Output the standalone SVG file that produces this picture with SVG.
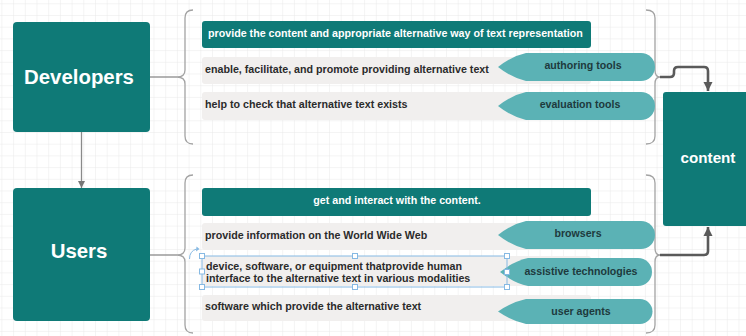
<svg xmlns="http://www.w3.org/2000/svg" width="746" height="336" viewBox="0 0 746 336">
  <defs>
    <pattern id="grid" x="1.4" y="3.3" width="11.7" height="11.7" patternUnits="userSpaceOnUse">
      <path d="M11.7,0 L0,0 L0,11.7" fill="none" stroke="#e9e9e9" stroke-width="1"/>
    </pattern>
    <marker id="arrowDark" viewBox="0 0 10 10" refX="10" refY="5" markerUnits="userSpaceOnUse" markerWidth="9" markerHeight="10" orient="auto">
      <path d="M0,0 L10,5 L0,10 Z" fill="#5a5a5a"/>
    </marker>
    <marker id="arrowThin" viewBox="0 0 10 10" refX="10" refY="5" markerUnits="userSpaceOnUse" markerWidth="8" markerHeight="7" orient="auto">
      <path d="M0,0 L10,5 L0,10 Z" fill="#777"/>
    </marker>
    <style>
      .big { fill: #0f7a77; }
      .bar { fill: #0f7a77; }
      .item { fill: #f1efee; }
      .callout { fill: #5bb2b5; }
      .brace { fill: none; stroke: #a3a3a3; stroke-width: 1.3; }
      .link { fill: none; stroke: #8a8a8a; stroke-width: 1.3; }
      .flow { fill: none; stroke: #5a5a5a; stroke-width: 2.6; stroke-linejoin: round; }
      .bigtxt { font-family: "Liberation Sans", Arial, sans-serif; font-weight: bold; fill: #ffffff; text-anchor: middle; }
      .t { font-family: "Liberation Sans", Arial, sans-serif; font-weight: bold; font-size: 10.7px; fill: #2b2b2b; }
      .tw { font-family: "Liberation Sans", Arial, sans-serif; font-weight: bold; font-size: 10.7px; fill: #ffffff; }
      .tc { font-family: "Liberation Sans", Arial, sans-serif; font-weight: bold; font-size: 10.6px; fill: #1e3a3d; text-anchor: middle; }
      .sel { fill: none; stroke: #86b9e3; stroke-width: 1; }
      .handle { fill: #ffffff; stroke: #86b9e3; stroke-width: 1; }
    </style>
  </defs>

  <rect x="0" y="0" width="746" height="336" fill="#ffffff"/>
  <rect x="0" y="0" width="746" height="336" fill="url(#grid)"/>

  <g id="connectors">
    <path class="brace" d="M193,10 Q185,10 185,18 L185,70 Q185,77 177,77 Q185,77 185,84 L185,136 Q185,144 193,144"/>
    <path class="brace" d="M646,10 Q655,10 655,18 L655,70 Q655,77 660,77 Q655,77 655,84 L655,136 Q655,144 646,144"/>
    <path class="brace" d="M193,175 Q185,175 185,183 L185,248 Q185,255 177,255 Q185,255 185,262 L185,325 Q185,333 193,333"/>
    <path class="brace" d="M646,175 Q655,175 655,183 L655,248 Q655,255 660,255 Q655,255 655,262 L655,325 Q655,333 646,333"/>
    <path class="link" d="M150,77 L177,77"/>
    <path class="link" d="M150,255 L177,255"/>
    <path class="link" d="M81.5,132 L81.5,188" marker-end="url(#arrowThin)"/>
    <path class="flow" d="M660,77 L670,77 Q674,77 674,73 L674,71 Q674,67 678,67 L704,67 Q708,67 708,71 L708,91" marker-end="url(#arrowDark)"/>
    <path class="flow" d="M660,255 L704,255 Q708,255 708,251 L708,227" marker-end="url(#arrowDark)"/>
  </g>

  <g id="developers">
    <rect class="big" x="13" y="22" width="137" height="110" rx="4"/>
    <text class="bigtxt" x="79" y="84" font-size="20.4">Developers</text>
  </g>

  <g id="users">
    <rect class="big" x="13" y="188" width="137" height="133" rx="4"/>
    <text class="bigtxt" x="79" y="258" font-size="20.4">Users</text>
  </g>

  <g id="content">
    <rect class="big" x="663" y="92" width="92" height="134" rx="3"/>
    <text class="bigtxt" x="708" y="163" font-size="15.2">content</text>
  </g>

  <g id="dev-role">
    <rect class="bar" x="202" y="21" width="389" height="27" rx="3"/>
    <text class="tw" x="208" y="37">provide the content and appropriate alternative way of text representation</text>
  </g>

  <g id="dev-authoring">
    <rect class="item" x="202" y="57" width="389" height="27" rx="3"/>
    <text class="t" x="205" y="73">enable, facilitate, and promote providing alternative text</text>
    <path class="callout" d="M498,67 Q512,56 526,53 L641,53 A14,14 0 0 1 641,81 L526,81 Q512,78 498,67 Z"/>
    <text class="tc" x="583" y="69">authoring tools</text>
  </g>

  <g id="dev-evaluation">
    <rect class="item" x="202" y="92" width="389" height="28" rx="3"/>
    <text class="t" x="205" y="108">help to check that alternative text exists</text>
    <path class="callout" d="M498,106 Q512,95 526,92 L641,92 A14,14 0 0 1 641,120 L526,120 Q512,117 498,106 Z"/>
    <text class="tc" x="580" y="108">evaluation tools</text>
  </g>

  <g id="user-role">
    <rect class="bar" x="202" y="188" width="389" height="28" rx="3"/>
    <text class="tw" x="397" y="204" text-anchor="middle">get and interact with the content.</text>
  </g>

  <g id="user-browsers">
    <rect class="item" x="202" y="223" width="389" height="27" rx="3"/>
    <text class="t" x="205" y="239">provide information on the World Wide Web</text>
    <path class="callout" d="M498,235 Q512,224 526,221 L641,221 A14,14 0 0 1 641,249 L526,249 Q512,246 498,235 Z"/>
    <text class="tc" x="578" y="237">browsers</text>
  </g>

  <g id="user-assistive">
    <rect class="item" x="202" y="256" width="389" height="30" rx="3"/>
    <text class="t" x="206" y="270" fill="#243240">device, software, or equipment thatprovide human</text>
    <text class="t" x="206" y="282" fill="#243240">interface to the alternative text in various modalities</text>
    <path class="callout" d="M500,272 Q514,261 528,258 L638,258 A14,14 0 0 1 638,286 L528,286 Q514,283 500,272 Z"/>
    <text class="tc" x="581" y="275">assistive technologies</text>
  </g>

  <g id="user-agents">
    <rect class="item" x="202" y="295" width="389" height="26" rx="3"/>
    <text class="t" x="205" y="310">software which provide the alternative text</text>
    <path class="callout" d="M498,311.5 Q512,302 526,299 L640,299 A12.5,12.5 0 0 1 640,324 L526,324 Q512,321 498,311.5 Z"/>
    <text class="tc" x="581" y="315">user agents</text>
  </g>

  <g id="selection">
    <rect class="sel" x="202" y="256" width="305" height="31"/>
    <path class="sel" d="M189.5,259 Q189.5,251 196.5,249"/>
    <path d="M196.5,246.5 L199.5,249 L196,251.5 Z" fill="#86b9e3"/>
    <rect class="handle" x="199.5" y="253.5" width="5" height="5"/>
    <rect class="handle" x="352.5" y="253.5" width="5" height="5"/>
    <rect class="handle" x="504.5" y="253.5" width="5" height="5"/>
    <rect class="handle" x="199.5" y="269" width="5" height="5"/>
    <rect class="handle" x="504.5" y="269.5" width="5" height="5"/>
    <rect class="handle" x="199.5" y="284.5" width="5" height="5"/>
    <rect class="handle" x="352.5" y="284.5" width="5" height="5"/>
    <rect class="handle" x="504.5" y="284.5" width="5" height="5"/>
  </g>
</svg>
